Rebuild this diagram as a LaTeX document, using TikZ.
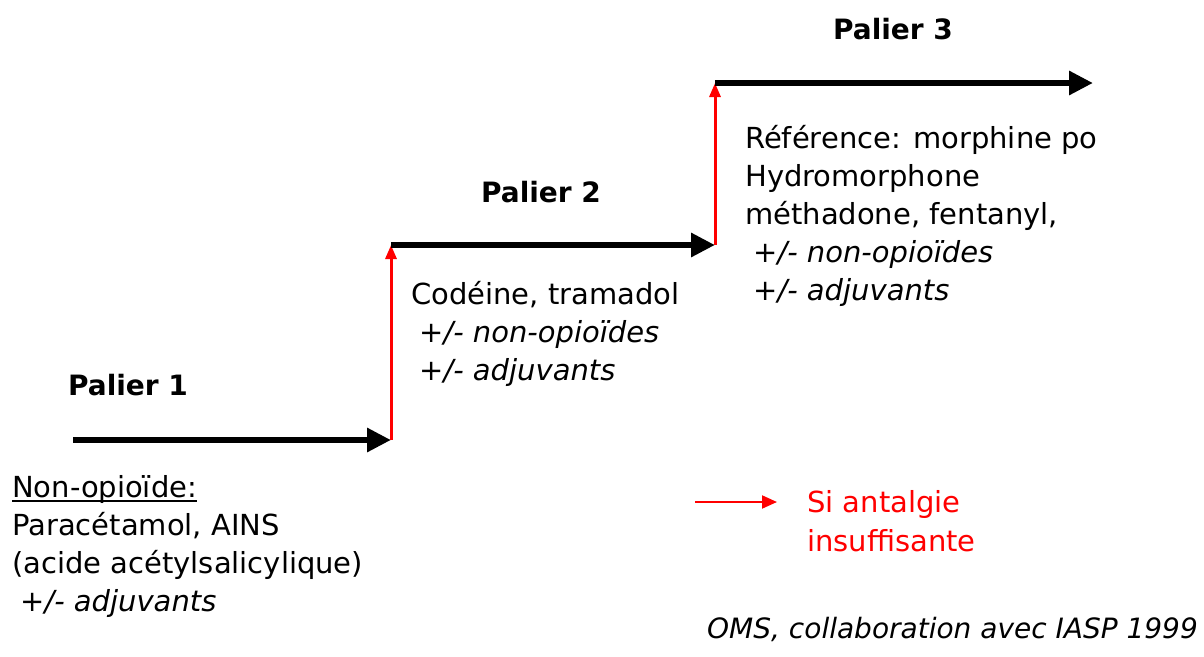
\documentclass[tikz,border=0pt]{standalone}
\usepackage{fontspec}
\setmainfont{DejaVu Sans}
\usetikzlibrary{arrows.meta}
\newcommand\myul[1]{\setbox0\hbox{#1}\rlap{\rule[-4.5pt]{\wd0}{1.8pt}}#1}
\begin{document}
\begin{tikzpicture}[x=1pt,y=-1pt,
  body/.style={font=\fontsize{29}{38}\selectfont, inner sep=0pt, align=left, anchor=base west},
  title/.style={font=\fontsize{28}{32}\selectfont\bfseries, inner sep=0pt, anchor=base},
  stair/.style={line width=6.5pt, -{Triangle[length=24pt,width=23pt]}},
  escal/.style={red, line width=3pt, -{Triangle[length=14pt,width=11pt]}},
  legarrow/.style={red, line width=2pt, -{Triangle[length=15pt,width=13pt]}}]
\useasboundingbox (0,0) rectangle (1204,656);
\coordinate (s1) at (73,440);
\coordinate (c1) at (391,440);
\coordinate (c1t) at (391,245);
\coordinate (c2) at (715,245);
\coordinate (c2t) at (715,83);
\coordinate (e3) at (1093,83);
\coordinate (l1) at (695,502);
\coordinate (l2) at (777,502);
% escalation arrows
\draw[escal] (c1) -- (c1t);
\draw[escal] (c2) -- (c2t);
% steps
\draw[stair] (s1) -- (c1);
\draw[stair] (c1t) -- (c2);
\draw[stair] (c2t) -- (e3);
% titles
\node[title] (p1) at (128,395) {Palier 1};
\node[title] (p2) at (541,202) {Palier 2};
\node[title] (p3) at (893,39) {Palier 3};
% text blocks (anchored at the baseline of the last line)
\node[body] (b1) at (12,611) {\myul{Non-opioïde:}\\Paracétamol, AINS\\(acide acétylsalicylique)\\\hspace*{8pt}\textit{+/- adjuvants}};
\node[body] (b2) at (411,380) {Codéine, tramadol\\\hspace*{8pt}\textit{+/- non-opioïdes}\\\hspace*{8pt}\textit{+/- adjuvants}};
\node[body] (b3) at (745,300) {Référence: morphine po\\Hydromorphone\\méthadone, fentanyl,\\\hspace*{8pt}\textit{+/- non-opioïdes}\\\hspace*{8pt}\textit{+/- adjuvants}};
% legend
\draw[legarrow] (l1) -- (l2);
\node[body, text=red, font=\fontsize{29}{39}\selectfont] (leg) at (807,551) {Si antalgie\\insuffisante};
% source
\node[font=\fontsize{28}{34}\selectfont\itshape, inner sep=0pt, anchor=base east] (src) at (1198,638) {OMS, collaboration avec IASP 1999};
\end{tikzpicture}
\end{document}
